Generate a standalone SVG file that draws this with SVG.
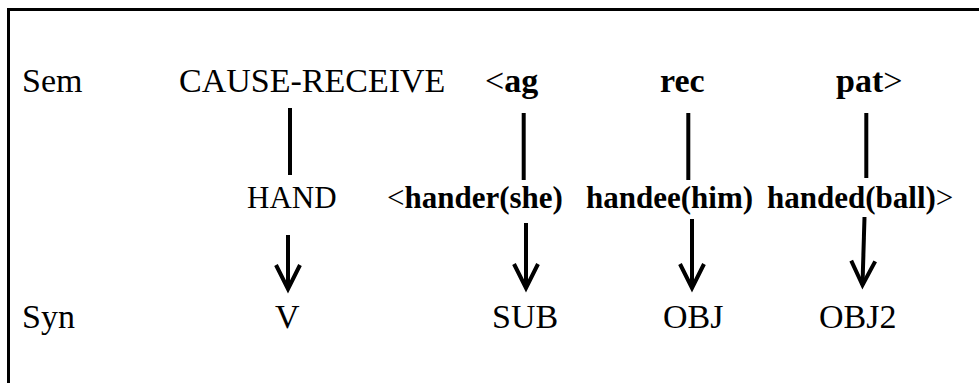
<svg xmlns="http://www.w3.org/2000/svg" width="979" height="383" viewBox="0 0 979 383">
<style>
.r1,.r3{font-size:34px}
.r2{font-size:31px}
.b{font-weight:bold}
.ln{stroke:#000;stroke-width:4;fill:none}
.ar{stroke:#000;stroke-width:4;fill:none;marker-end:url(#v)}
</style>
<defs>
<marker id="v" markerUnits="userSpaceOnUse" orient="auto" refX="0" refY="0" markerWidth="40" markerHeight="40" viewBox="-30 -20 40 40" overflow="visible">
<path d="M-24,-12 L0,0 L-24,12" fill="none" stroke="#000" stroke-width="4" stroke-linejoin="miter"/>
</marker>
</defs>
<rect x="8.5" y="9.5" width="1000" height="400" fill="none" stroke="#000" stroke-width="3"/>
<g font-family="'Liberation Serif', 'Times New Roman', Times, serif" fill="#000">
<g id="row-labels">
<text class="r1" x="22" y="92">Sem</text>
<text class="r3" x="22" y="328">Syn</text>
</g>
<g id="sem-cause">
<text class="r1" x="179" y="92">CAUSE-RECEIVE</text>
</g>
<g id="sem-ag">
<text class="r1" x="485" y="92">&lt;<tspan class="b">ag</tspan></text>
</g>
<g id="sem-rec">
<text class="r1 b" x="660" y="92">rec</text>
</g>
<g id="sem-pat">
<text class="r1" x="836" y="92"><tspan class="b">pat</tspan>&gt;</text>
</g>
<g id="lex-hand">
<text class="r2" x="247" y="208">HAND</text>
</g>
<g id="lex-hander">
<text class="r2" x="387" y="208">&lt;<tspan class="b">hander(she)</tspan></text>
</g>
<g id="lex-handee">
<text class="r2 b" x="586" y="208">handee(him)</text>
</g>
<g id="lex-handed">
<text class="r2" x="767" y="208"><tspan class="b">handed(ball)</tspan>&gt;</text>
</g>
<g id="syn-v">
<text class="r3" x="275" y="328">V</text>
</g>
<g id="syn-sub">
<text class="r3" x="492" y="328">SUB</text>
</g>
<g id="syn-obj">
<text class="r3" x="663" y="328">OBJ</text>
</g>
<g id="syn-obj2">
<text class="r3" x="819" y="328">OBJ2</text>
</g>
</g>
<g id="connectors">
<line class="ln" x1="290" y1="108" x2="290" y2="175"/>
<line class="ln" x1="523.7" y1="113" x2="523.7" y2="180"/>
<line class="ln" x1="688.3" y1="113" x2="688.3" y2="180"/>
<line class="ln" x1="866.3" y1="113" x2="866.3" y2="178"/>
<line class="ar" x1="288" y1="235" x2="288" y2="289"/>
<line class="ar" x1="526" y1="223" x2="526" y2="288"/>
<line class="ar" x1="692" y1="219" x2="692" y2="288"/>
<line class="ar" x1="864.5" y1="217" x2="862.5" y2="285"/>
</g>
</svg>
